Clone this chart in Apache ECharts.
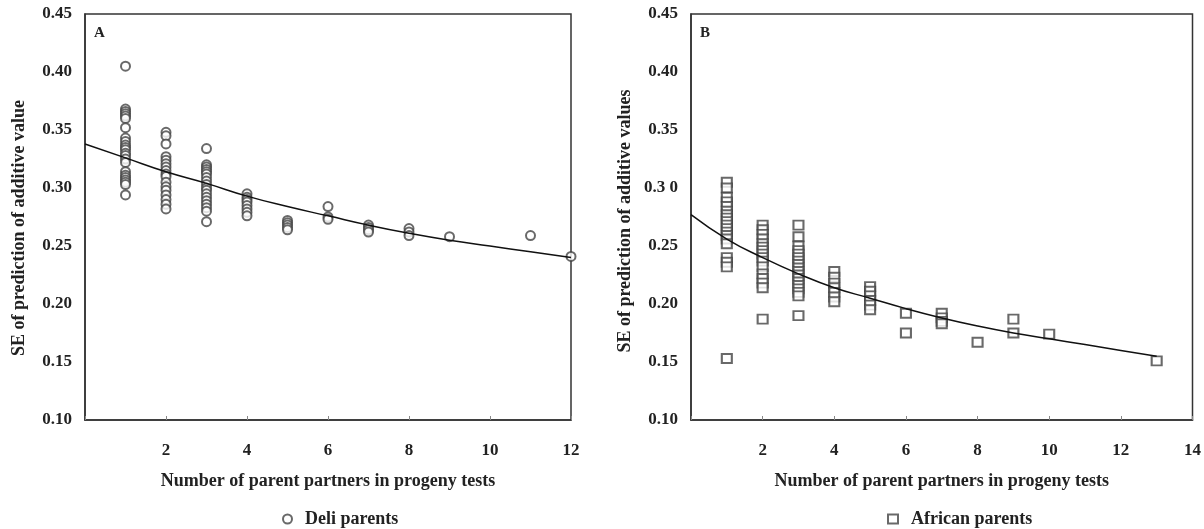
<!DOCTYPE html>
<html>
<head>
<meta charset="utf-8">
<script src="https://cdn.jsdelivr.net/npm/echarts@6/dist/echarts.min.js"></script>
<style>
  html, body { margin: 0; padding: 0; background: #fff; }
  #chart { width: 1204px; height: 529px; }
</style>
</head>
<body>
<div id="chart"></div>
<script>
// SE values, one array per number of partners
const deliAt1 = [0.405, 0.368, 0.366, 0.364, 0.362, 0.360, 0.352, 0.343, 0.340, 0.337, 0.335, 0.333, 0.330, 0.328, 0.325, 0.322, 0.314, 0.311, 0.309, 0.307, 0.305, 0.303, 0.294];
const deliAt2 = [0.348, 0.345, 0.338, 0.327, 0.324, 0.321, 0.318, 0.315, 0.312, 0.310, 0.305, 0.301, 0.298, 0.294, 0.290, 0.286, 0.282];
const deliAt3 = [0.334, 0.320, 0.318, 0.316, 0.314, 0.312, 0.309, 0.306, 0.303, 0.300, 0.298, 0.295, 0.292, 0.289, 0.286, 0.283, 0.280, 0.271];
const deliAt4 = [0.295, 0.292, 0.290, 0.288, 0.285, 0.282, 0.279, 0.276];
const deliAt5 = [0.272, 0.270, 0.268, 0.266, 0.264];
const deliAt6 = [0.284, 0.275, 0.273];
const deliAt7 = [0.268, 0.266, 0.264, 0.262];
const deliAt8 = [0.265, 0.262, 0.259];
const deliAt9 = [0.258];
const deliAt11 = [0.259];
const deliAt12 = [0.241];

const africanAt1 = [0.305, 0.300, 0.292, 0.288, 0.284, 0.280, 0.277, 0.274, 0.271, 0.268, 0.265, 0.262, 0.259, 0.256, 0.252, 0.240, 0.236, 0.232, 0.153];
const africanAt2 = [0.268, 0.264, 0.260, 0.256, 0.252, 0.249, 0.246, 0.243, 0.240, 0.237, 0.232, 0.226, 0.222, 0.218, 0.214, 0.187];
const africanAt3 = [0.268, 0.258, 0.250, 0.246, 0.243, 0.240, 0.237, 0.234, 0.231, 0.228, 0.225, 0.222, 0.219, 0.216, 0.213, 0.210, 0.207, 0.190];
const africanAt4 = [0.228, 0.223, 0.218, 0.214, 0.210, 0.206, 0.202];
const africanAt5 = [0.215, 0.211, 0.207, 0.203, 0.199, 0.195];
const africanAt6 = [0.192, 0.175];
const africanAt7 = [0.192, 0.188, 0.185, 0.183];
const africanAt8 = [0.167];
const africanAt9 = [0.187, 0.175];
const africanAt10 = [0.174];
const africanAt13 = [0.151];

// fitted curves
const deliCurveX = [0, 1, 2, 3, 4, 5, 6, 7, 8, 9, 10, 11, 12];
const deliCurveY = [0.338, 0.326, 0.314, 0.304, 0.293, 0.284, 0.276, 0.268, 0.261, 0.255, 0.250, 0.245, 0.240];
const africanCurveX = [0, 1, 2, 3, 4, 5, 6, 7, 8, 9, 10, 11, 12, 13];
const africanCurveY = [0.277, 0.256, 0.240, 0.226, 0.214, 0.205, 0.196, 0.188, 0.181, 0.175, 0.170, 0.165, 0.160, 0.155];

const deliGroups = [[1, deliAt1], [2, deliAt2], [3, deliAt3], [4, deliAt4], [5, deliAt5], [6, deliAt6],
    [7, deliAt7], [8, deliAt8], [9, deliAt9], [11, deliAt11], [12, deliAt12]];
const africanGroups = [[1, africanAt1], [2, africanAt2], [3, africanAt3], [4, africanAt4], [5, africanAt5],
    [6, africanAt6], [7, africanAt7], [8, africanAt8], [9, africanAt9], [10, africanAt10], [13, africanAt13]];

const toPoints = groups => groups.flatMap(([x, ys]) => ys.map(y => [x, y]));
const zip = (xs, ys) => xs.map((x, i) => [x, ys[i]]);

const font = 'Liberation Serif, Times New Roman, serif';
const ink = '#222';

const xAxisBase = (gridIndex, max) => ({
    type: 'value',
    gridIndex,
    min: 0,
    max,
    interval: 2,
    name: 'Number of parent partners in progeny tests',
    nameLocation: 'middle',
    nameGap: 52,
    nameTextStyle: { fontFamily: font, fontWeight: 'bold', fontSize: 18, color: ink },
    axisLine: { lineStyle: { color: '#333', width: 1.5 } },
    axisTick: { show: true, inside: true, length: 4, lineStyle: { color: '#888' } },
    axisLabel: {
        fontFamily: font, fontWeight: 'bold', fontSize: 17, color: ink, margin: 22,
        formatter: v => (v === 0 ? '' : String(v)),
    },
    splitLine: { show: false },
});

const yAxisBase = (gridIndex, name, fmt, shift) => ({
    type: 'value',
    gridIndex,
    min: 0.10,
    max: 0.45,
    interval: 0.05,
    name,
    nameLocation: 'middle',
    nameGap: 57,
    nameTextStyle: {
        fontFamily: font, fontWeight: 'bold', fontSize: 18, color: ink,
        padding: [0, shift, 0, 0],
    },
    axisLine: { show: true, lineStyle: { color: '#333', width: 1.5 } },
    axisTick: { show: false },
    axisLabel: { fontFamily: font, fontWeight: 'bold', fontSize: 17, color: ink, margin: 13, formatter: fmt },
    splitLine: { show: false },
});

const legendText = { fontFamily: font, fontWeight: 'bold', fontSize: 18, color: ink, padding: [0, 0, 0, 8] };

const chart = echarts.init(document.getElementById('chart'));

chart.setOption({
    backgroundColor: '#fff',
    animation: false,
    title: [
        { text: 'A', left: 89, top: 21, textStyle: { fontFamily: font, fontWeight: 'bold', fontSize: 15, color: ink } },
        { text: 'B', left: 695, top: 21, textStyle: { fontFamily: font, fontWeight: 'bold', fontSize: 15, color: ink } },
    ],
    grid: [
        { left: 85, right: 633, top: 14, bottom: 109, show: true, borderColor: '#333', borderWidth: 1.5 },
        { left: 691, right: 9, top: 14, bottom: 109, show: true, borderColor: '#333', borderWidth: 1.5 },
    ],
    legend: [
        { data: ['Deli parents'], left: 277, top: 505, itemWidth: 9, itemHeight: 9, textStyle: legendText },
        { data: ['African parents'], left: 882, top: 505, itemWidth: 10, itemHeight: 9, textStyle: legendText },
    ],
    xAxis: [xAxisBase(0, 12), xAxisBase(1, 14)],
    yAxis: [
        yAxisBase(0, 'SE of prediction of additive value', v => v.toFixed(2), 22),
        yAxisBase(1, 'SE of prediction of additive values',
            v => (Math.abs(v - 0.3) < 1e-9 ? '0.3 0' : v.toFixed(2)), 8),
    ],
    series: [
        {
            name: 'Deli parents',
            type: 'scatter',
            xAxisIndex: 0,
            yAxisIndex: 0,
            symbol: 'emptyCircle',
            symbolSize: 9,
            itemStyle: { color: '#444', borderColor: '#444', borderWidth: 1 },
            data: toPoints(deliGroups),
        },
        {
            name: 'Deli fit',
            type: 'line',
            xAxisIndex: 0,
            yAxisIndex: 0,
            smooth: true,
            showSymbol: false,
            lineStyle: { color: '#111', width: 1.5 },
            data: zip(deliCurveX, deliCurveY),
        },
        {
            name: 'African parents',
            type: 'scatter',
            xAxisIndex: 1,
            yAxisIndex: 1,
            symbol: 'emptyRect',
            symbolSize: [10, 9],
            itemStyle: { color: '#444', borderColor: '#444', borderWidth: 1 },
            data: toPoints(africanGroups),
        },
        {
            name: 'African fit',
            type: 'line',
            xAxisIndex: 1,
            yAxisIndex: 1,
            smooth: true,
            showSymbol: false,
            lineStyle: { color: '#111', width: 1.5 },
            data: zip(africanCurveX, africanCurveY),
        },
    ],
});

window.addEventListener('resize', () => chart.resize());
</script>
</body>
</html>
